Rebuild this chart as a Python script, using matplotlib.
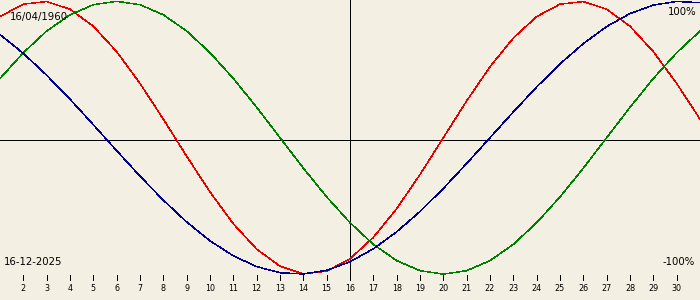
import matplotlib
matplotlib.use('Agg')
import matplotlib.pyplot as plt

# days of December 2025 shown on the chart
days = list(range(1, 32))
tick_days = list(range(2, 31))
today = 16

# cycle values (-1 .. 1)
physical = [0.888, 0.979, 0.998, 0.942, 0.817, 0.631, 0.398, 0.136, -0.136, -0.398,
            -0.631, -0.817, -0.942, -0.998, -0.979, -0.888, -0.731, -0.520, -0.270, 0.0,
            0.270, 0.520, 0.731, 0.888, 0.979, 0.998, 0.942, 0.817, 0.631, 0.398, 0.136]
emotional = [0.434, 0.623, 0.782, 0.901, 0.975, 1.0, 0.975, 0.901, 0.782, 0.623,
             0.434, 0.223, 0.0, -0.223, -0.434, -0.623, -0.782, -0.901, -0.975, -1.0,
             -0.975, -0.901, -0.782, -0.623, -0.434, -0.223, 0.0, 0.223, 0.434, 0.623, 0.782]
intellectual = [0.756, 0.618, 0.458, 0.282, 0.095, -0.095, -0.282, -0.458, -0.618, -0.756,
                -0.866, -0.945, -0.990, -0.999, -0.972, -0.910, -0.815, -0.690, -0.541, -0.372,
                -0.189, 0.0, 0.189, 0.372, 0.541, 0.690, 0.815, 0.910, 0.972, 0.999, 0.990]

birth_label = '16/04/1960'
date_label = '16-12-2025'

bg = '#f3efe3'
W, H = 700, 300
c0, amp = 137.7, 136.4   # pixel centre / amplitude of the curves


def v(py):
    # pixel row -> value
    return (c0 - py) / amp


fig = plt.figure(figsize=(7, 3), dpi=100)
fig.patch.set_facecolor(bg)
ax = fig.add_axes([0, 0, 1, 1])
ax.set_facecolor(bg)
ax.set_xlim(1, 31)
ax.set_ylim(v(H), v(0))
ax.axis('off')

# centre lines
ax.plot([1, 31], [v(140.3), v(140.3)], color='black', lw=0.6, antialiased=False)
ax.plot([today, today], [v(0), v(280)], color='black', lw=0.6, antialiased=False)

ax.plot(days, physical, color='#e80000', lw=0.35, antialiased=False)
ax.plot(days, emotional, color='#008000', lw=0.35, antialiased=False)
ax.plot(days, intellectual, color='#00008c', lw=0.35, antialiased=False)

# day ticks
for d in tick_days:
    ax.plot([d, d], [v(275), v(280)], color='black', lw=0.6, antialiased=False)
    ax.text(d, v(288.5), str(d), ha='center', va='center', fontsize=5.8,
            color='black')

ax.text(10 / W * 30 + 1, v(17), birth_label, ha='left', va='center', fontsize=7.3)
ax.text(697 / W * 30 + 1, v(12), '100%', ha='right', va='center', fontsize=7.3)
ax.text(4 / W * 30 + 1, v(262), date_label, ha='left', va='center', fontsize=7.3)
ax.text(695 / W * 30 + 1, v(262), '-100%', ha='right', va='center', fontsize=7.3)

fig.savefig('out.png', dpi=100, facecolor=bg)
